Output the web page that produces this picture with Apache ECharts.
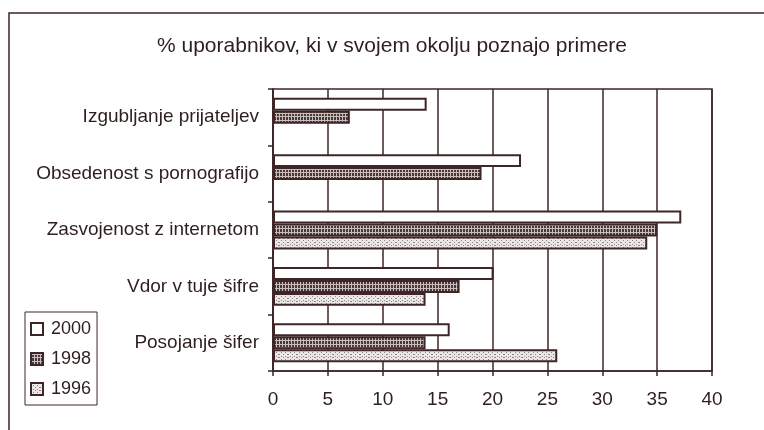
<!DOCTYPE html>
<html>
<head>
<meta charset="utf-8">
<script src="https://cdn.jsdelivr.net/npm/echarts@6/dist/echarts.min.js"></script>
<style>
  html, body { margin: 0; padding: 0; background: #fff; }
  #main { width: 764px; height: 430px; }
</style>
</head>
<body>
<div id="main"></div>
<script>
(function () {
    // podatki
    var categories = ['Izgubljanje prijateljev', 'Obsedenost s pornografijo', 'Zasvojenost z internetom', 'Vdor v tuje šifre', 'Posojanje šifer'];
    var years = ['2000', '1998', '1996'];
    var data2000 = [14, 22.6, 37.2, 20.1, 16.1];
    var data1998 = [7, 19, 35, 17, 13.9];
    var data1996 = [null, null, 34.1, 13.9, 25.9];
    var xTicks = [0, 5, 10, 15, 20, 25, 30, 35, 40];

    var ink = '#3e2626';
    var txt = '#2e1e1e';

    // stippled fill like the old print
    function stipple(base, speck, step) {
        var c = document.createElement('canvas');
        c.width = 9; c.height = 7;
        var ctx = c.getContext('2d');
        ctx.fillStyle = base;
        ctx.fillRect(0, 0, 9, 7);
        ctx.fillStyle = speck;
        for (var y = 0; y < 7; y++) {
            for (var x = 0; x < 9; x++) {
                if ((x * 5 + y * 3 + x * y) % step === 0) ctx.fillRect(x, y, 1, 1);
            }
        }
        return c;
    }

    var myChart = echarts.init(document.getElementById('main'));
    var font = '"Liberation Sans", Arial, sans-serif';

    function bar(name, values, fill) {
        return {
            name: name,
            type: 'bar',
            data: values,
            barGap: '0%',
            barCategoryGap: '31%',
            itemStyle: { color: fill, borderColor: ink, borderWidth: 2 }
        };
    }

    var option = {
        backgroundColor: '#fff',
        animation: false,
        title: {
            text: '% uporabnikov, ki v svojem okolju poznajo primere',
            left: 387,
            textAlign: 'center',
            top: 31,
            textStyle: { color: txt, fontFamily: font, fontSize: 21, fontWeight: 'normal' }
        },
        legend: {
            orient: 'vertical',
            left: 25,
            top: 312,
            data: years,
            icon: 'rect',
            itemWidth: 12,
            itemHeight: 12,
            itemGap: 12,
            padding: [8, 6, 7, 5],
            borderColor: ink,
            borderWidth: 1,
            textStyle: { color: txt, fontFamily: font, fontSize: 18, lineHeight: 18, padding: [0, 0, 0, 3] }
        },
        grid: { left: 273, right: 52, top: 89, bottom: 59, show: true, borderColor: ink, borderWidth: 1.5 },
        xAxis: {
            type: 'value',
            min: 0,
            max: 40,
            interval: 5,
            axisLine: { show: true, lineStyle: { color: ink, width: 1.5 } },
            axisTick: { show: true, length: 5, lineStyle: { color: ink, width: 1.5 } },
            splitLine: { show: true, lineStyle: { color: ink, width: 1.5 } },
            axisLabel: {
                color: txt, fontFamily: font, fontSize: 19, margin: 19,
                formatter: function (v) { return xTicks.indexOf(v) >= 0 ? String(v) : ''; }
            }
        },
        yAxis: {
            type: 'category',
            inverse: true,
            data: categories,
            axisLine: { show: true, lineStyle: { color: ink, width: 1.5 } },
            axisTick: { show: true, length: 5, lineStyle: { color: ink, width: 1.5 } },
            axisLabel: { color: txt, fontFamily: font, fontSize: 19, margin: 14 }
        },
        series: [
            bar(years[0], data2000, '#ffffff'),
            bar(years[1], data1998, { image: stipple('#4a3838', '#c8bebe', 3), repeat: 'repeat' }),
            bar(years[2], data1996, { image: stipple('#ebe7e7', '#8f8484', 4), repeat: 'repeat' })
        ],
        graphic: [{
            type: 'rect',
            shape: { x: 9, y: 13, width: 800, height: 500 },
            style: { fill: null, stroke: ink, lineWidth: 1.5 },
            silent: true
        }]
    };

    myChart.setOption(option);
    window.addEventListener('resize', function () {
        myChart.resize();
    });
})();
</script>
</body>
</html>
